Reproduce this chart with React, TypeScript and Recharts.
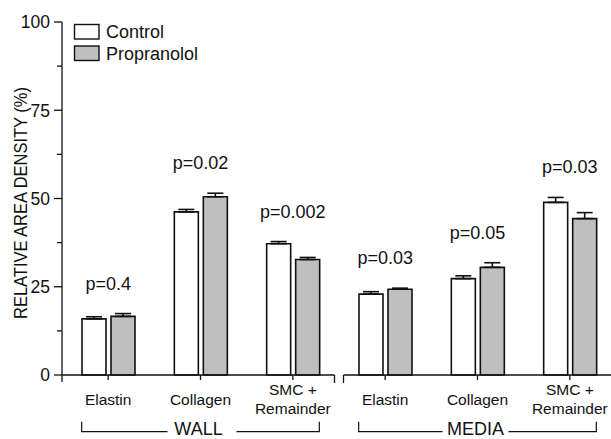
import React from 'react';
import {
  BarChart,
  Bar,
  XAxis,
  YAxis,
  ErrorBar,
  Legend,
  ReferenceDot,
  ReferenceLine,
} from 'recharts';

// ---- data ----
const categories = ['Elastin', 'Collagen', 'SMC +\nRemainder', 'Elastin', 'Collagen', 'SMC +\nRemainder'];
const groupOf = ['WALL', 'WALL', 'WALL', 'MEDIA', 'MEDIA', 'MEDIA'];
const groups = ['WALL', 'MEDIA'];
const controlValues = [15.9, 46.2, 37.2, 22.9, 27.3, 48.9];
const controlErrors = [0.6, 0.7, 0.6, 0.7, 0.8, 1.4];
const propranololValues = [16.6, 50.5, 32.7, 24.3, 30.5, 44.3];
const propranololErrors = [0.8, 1.0, 0.6, 0.3, 1.3, 1.7];
const pLabels = ['p=0.4', 'p=0.02', 'p=0.002', 'p=0.03', 'p=0.05', 'p=0.03'];
const yTicks = [0, 12.5, 25, 37.5, 50, 62.5, 75, 87.5, 100];
const seriesNames = ['Control', 'Propranolol'];

// ---- styles ----
const FONT = '"Liberation Sans", Arial, Helvetica, sans-serif';
const GRAY = '#bfbfbf';
const INK = '#111';
const seriesFills = ['#ffffff', GRAY];

const data = categories.map((c, i) => ({
  key: `${groupOf[i]}-${i}`,
  label: c,
  group: groupOf[i],
  control: controlValues[i],
  controlErr: controlErrors[i],
  propranolol: propranololValues[i],
  propranololErr: propranololErrors[i],
  p: pLabels[i],
  top: Math.max(controlValues[i] + controlErrors[i], propranololValues[i] + propranololErrors[i]),
}));

const YTick = (props: any) => {
  const { x, y, payload } = props;
  const v = payload.value;
  const major = v % 25 === 0;
  return (
    <g>
      <line x1={x - (major ? 8 : 5)} x2={x} y1={y} y2={y} stroke={INK} strokeWidth={1.3} />
      {major && (
        <text x={x - 12} y={y} dy="0.36em" textAnchor="end" fontSize={17.5} fontFamily={FONT} fill={INK}>
          {v}
        </text>
      )}
    </g>
  );
};

const XTick = (props: any) => {
  const { x, y, index } = props;
  const lines = categories[index].split('\n');
  const base = lines.length === 1 ? [25] : [15, 33.5];
  return (
    <g>
      {lines.map((l, k) => (
        <text key={k} x={x} y={y + base[k]} textAnchor="middle" fontSize={15.5} fontFamily={FONT} fill={INK}>
          {l}
        </text>
      ))}
    </g>
  );
};

const groupGaps: Record<string, [number, number]> = { WALL: [31, 38], MEDIA: [33, 33] };

const makeGroupShape = (gi: number) => (props: any) => {
  const { x1, y1, x2 } = props;
  const name = groups[gi];
  const band = (x2 - x1) / 2;
  const left = x1 - band / 2;
  const right = x2 + band / 2;
  const brk = 4.5;
  const axStart = gi === 0 ? left : left + brk;
  const axEnd = gi === 0 ? right - brk : right + 10;
  const bl = x1 - 26.5;
  const br = x2 + 26.5;
  const by = y1 + 56.7;
  const cx = (x1 + x2) / 2 - 2;
  const [gl, gr] = groupGaps[name];
  return (
    <g>
      <line x1={axStart} x2={axEnd} y1={y1} y2={y1} stroke={INK} strokeWidth={1.3} />
      {gi === 0 ? (
        <>
          <line x1={left} x2={left} y1={y1} y2={y1 + 7} stroke={INK} strokeWidth={1.3} />
          <line x1={axEnd} x2={axEnd} y1={y1} y2={y1 + 8} stroke={INK} strokeWidth={1.3} />
        </>
      ) : (
        <line x1={axStart} x2={axStart} y1={y1} y2={y1 + 8} stroke={INK} strokeWidth={1.3} />
      )}
      <polyline
        points={`${bl},${by - 10} ${bl},${by} ${cx - gl},${by}`}
        fill="none"
        stroke={INK}
        strokeWidth={1.2}
      />
      <polyline
        points={`${cx + gr},${by} ${br},${by} ${br},${by - 10}`}
        fill="none"
        stroke={INK}
        strokeWidth={1.2}
      />
      <text x={cx} y={y1 + 60} textAnchor="middle" fontSize={18} fontFamily={FONT} fill={INK}>
        {name}
      </text>
    </g>
  );
};

const PShape = (p: string) => (props: any) => {
  const { cx, cy } = props;
  return (
    <text x={cx} y={cy - 24} textAnchor="middle" fontSize={18} fontFamily={FONT} fill={INK}>
      {p}
    </text>
  );
};

const LegendContent = () => (
  <svg width={200} height={50} style={{ display: 'block' }}>
    {seriesNames.map((n, i) => (
      <g key={n}>
        <rect x={4.5} y={4.5 + i * 21.5} width={24.5} height={14.5} fill={seriesFills[i]} stroke={INK} strokeWidth={1.4} />
        <text x={36} y={12 + i * 21.5} dy="0.36em" fontSize={18} fontFamily={FONT} fill={INK}>
          {n}
        </text>
      </g>
    ))}
  </svg>
);

export default function App() {
  return (
    <div
      style={{
        position: 'fixed',
        left: 0,
        top: 0,
        width: 611,
        height: 439,
        overflow: 'hidden',
        background: '#fff',
      }}
    >
      <BarChart
        width={616}
        height={439}
        data={data}
        margin={{ top: 22, right: 0, bottom: 0, left: 0 }}
        barGap={5}
      >
        <XAxis
          dataKey="key"
          height={64}
          axisLine={false}
          tickLine={{ stroke: INK, strokeWidth: 1.3 }}
          tickSize={5}
          tickMargin={0}
          interval={0}
          tick={<XTick />}
        />
        <YAxis
          width={62}
          domain={[0, 100]}
          ticks={yTicks}
          interval={0}
          axisLine={{ stroke: INK, strokeWidth: 1.3 }}
          tickLine={false}
          tickSize={0}
          tickMargin={0}
          tick={<YTick />}
          label={() => (
            <text
              x={27}
              y={203}
              transform="rotate(-90, 27, 203)"
              textAnchor="middle"
              fontSize={18.5}
              fontFamily={FONT}
              fill={INK}
              textLength={232}
              lengthAdjust="spacingAndGlyphs"
            >
              RELATIVE AREA DENSITY (%)
            </text>
          )}
        />
        <Legend
          layout="vertical"
          align="center"
          verticalAlign="middle"
          wrapperStyle={{ position: 'absolute', left: 70, top: 20, width: 200, height: 50 }}
          content={<LegendContent />}
        />
        <Bar dataKey="control" name="Control" fill={seriesFills[0]} stroke={INK} strokeWidth={1.6} barSize={24} isAnimationActive={false}>
          <ErrorBar dataKey={(d: any) => [0, d.controlErr]} width={8} stroke={INK} strokeWidth={1.6} direction="y" />
        </Bar>
        <Bar dataKey="propranolol" name="Propranolol" fill={seriesFills[1]} stroke={INK} strokeWidth={1.6} barSize={24} isAnimationActive={false}>
          <ErrorBar dataKey={(d: any) => [0, d.propranololErr]} width={8} stroke={INK} strokeWidth={1.6} direction="y" />
        </Bar>
        {groups.map((g, gi) => {
          const keys = data.filter((d) => d.group === g).map((d) => d.key);
          return (
            <ReferenceLine
              key={g}
              segment={[
                { x: keys[0], y: 0 },
                { x: keys[keys.length - 1], y: 0 },
              ]}
              ifOverflow="visible"
              shape={makeGroupShape(gi)}
            />
          );
        })}
        {data.map((d) => (
          <ReferenceDot key={d.key} x={d.key} y={d.top} r={1} ifOverflow="visible" shape={PShape(d.p)} />
        ))}
      </BarChart>
    </div>
  );
}
